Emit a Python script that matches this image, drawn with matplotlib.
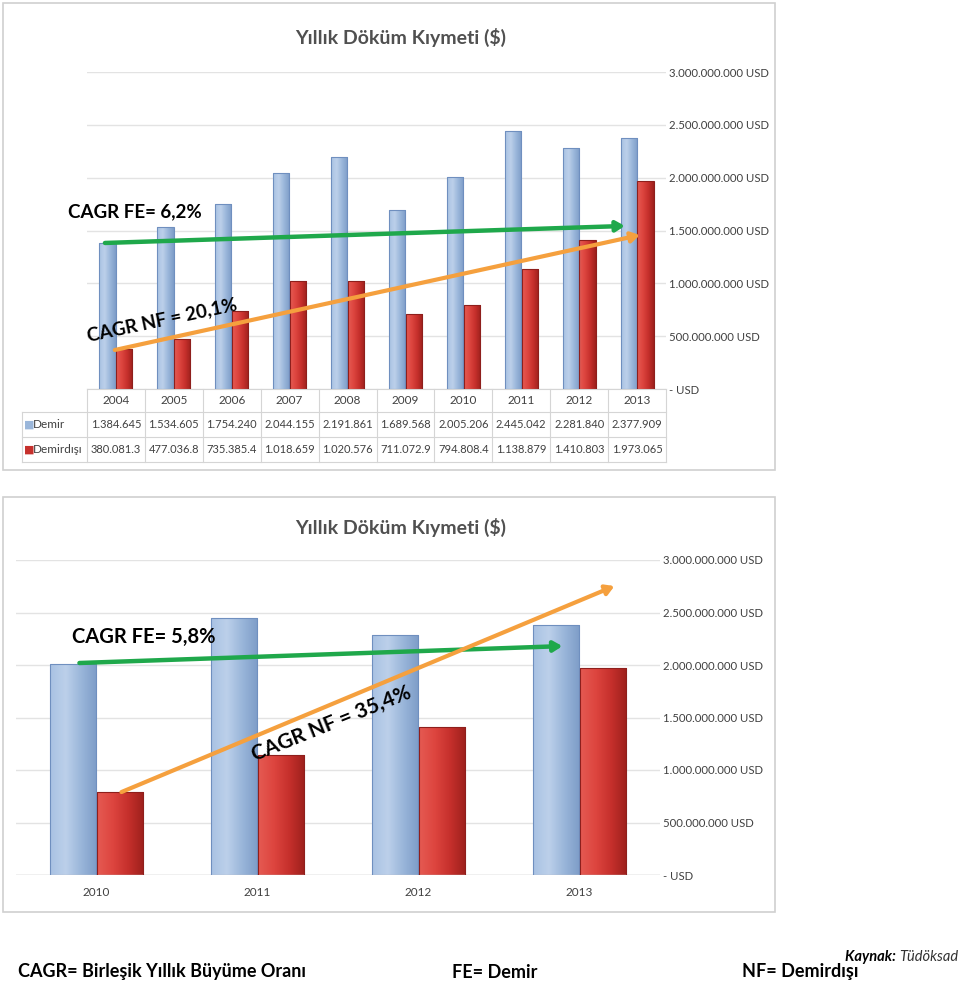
import numpy as np
import matplotlib.pyplot as plt
from matplotlib.patches import Rectangle
from matplotlib.colors import to_rgb
from matplotlib.transforms import blended_transform_factory

plt.rcParams['font.family'] = ['Lato', 'DejaVu Sans']

years = ['2004', '2005', '2006', '2007', '2008', '2009', '2010', '2011', '2012', '2013']
# thousand USD
demir = [1384645, 1534605, 1754240, 2044155, 2191861, 1689568, 2005206, 2445042, 2281840, 2377909]
demirdisi = [380081.3, 477036.8, 735385.4, 1018659, 1020576, 711072.9, 794808.4, 1138879, 1410803, 1973065]
demir_txt = ['1.384.645', '1.534.605', '1.754.240', '2.044.155', '2.191.861',
             '1.689.568', '2.005.206', '2.445.042', '2.281.840', '2.377.909']
demirdisi_txt = ['380.081.3', '477.036.8', '735.385.4', '1.018.659', '1.020.576',
                 '711.072.9', '794.808.4', '1.138.879', '1.410.803', '1.973.065']
ticks = [0, 500e6, 1000e6, 1500e6, 2000e6, 2500e6, 3000e6]

W, H = 960, 983
BLUE_E = '#6F8FBF'
RED_E = '#8E1F1C'
BLUE_G = ['#A9C2E3', '#BCD0EA', '#9AB6DA', '#7E9DC8']
RED_G = ['#E55A52', '#DD453F', '#C6302C', '#9E211D']
GREEN, ORANGE = '#1FA84B', '#F5A03E'
GRID = '#E3E3E3'
TXT = '#404040'


def fx(x):
    return x / W


def fy(y):
    return 1 - y / H


def usd(v):
    if v == 0:
        return '- USD'
    return f'{v:,.0f}'.replace(',', '.') + ' USD'


def style_axes(ax):
    ax.set_ylim(0, 3000e6)
    ax.set_yticks(ticks)
    ax.set_yticklabels([usd(t) for t in ticks], fontsize=8.2, color=TXT)
    ax.yaxis.tick_right()
    ax.tick_params(axis='y', length=0, pad=2)
    ax.grid(axis='y', color=GRID, lw=1)
    ax.set_axisbelow(True)
    for s in ax.spines.values():
        s.set_visible(False)


def shade(ax, bars, stops):
    cols = np.array([to_rgb(c) for c in stops])
    t = np.linspace(0, 1, 40)
    pos = np.linspace(0, 1, len(stops))
    grad = np.stack([np.interp(t, pos, cols[:, k]) for k in range(3)], axis=-1)[None, :, :]
    xl, yl = ax.get_xlim(), ax.get_ylim()
    for b in bars:
        x0, y0 = b.get_xy()
        im = ax.imshow(grad, extent=[x0, x0 + b.get_width(), y0, y0 + b.get_height()],
                       aspect='auto', interpolation='bilinear', zorder=b.get_zorder() + 0.1)
        im.set_clip_path(b)
    ax.set_xlim(xl)
    ax.set_ylim(yl)


def draw_bars(ax, n, v1, v2, w):
    xs = np.arange(n)
    ax.set_xlim(-0.5, n - 0.5)
    b1 = ax.bar(xs - 0.145, [v * 1000 for v in v1], w, color='none', edgecolor=BLUE_E, lw=0.8)
    b2 = ax.bar(xs + 0.145, [v * 1000 for v in v2], w, color='none', edgecolor=RED_E, lw=0.8)
    shade(ax, b1, BLUE_G)
    shade(ax, b2, RED_G)
    for b in list(b1) + list(b2):
        b.set_zorder(3)


ARROW = '-|>,head_length=0.5,head_width=0.3'

fig = plt.figure(figsize=(W / 100, H / 100), dpi=100)

# chart frames
for y0, y1 in [(3, 470), (497, 912)]:
    fig.patches.append(Rectangle((fx(3), fy(y1)), fx(772), (y1 - y0) / H,
                                 transform=fig.transFigure, fill=False,
                                 ec='#D0D0D0', lw=1.2))

# ---------- top chart ----------
ax1 = fig.add_axes([fx(87), fy(389), fx(579), (389 - 72) / H])
style_axes(ax1)
draw_bars(ax1, len(years), demir, demirdisi, 0.28)
ax1.set_xticks([])

# data table under the axis
tr = blended_transform_factory(ax1.transData, ax1.transAxes)
rows_y = [0, -0.072, -0.151, -0.230]
lc = '#D5D5D5'
xl = -1.63
for k, yy in enumerate(rows_y):
    ax1.plot([-0.5 if k == 0 else xl, 9.5], [yy, yy], color=lc, lw=0.8,
             transform=tr, clip_on=False)
for i in range(len(years) + 1):
    ax1.plot([i - 0.5, i - 0.5], [0, rows_y[-1]], color=lc, lw=0.8,
             transform=tr, clip_on=False)
ax1.plot([xl, xl], [rows_y[1], rows_y[-1]], color=lc, lw=0.8,
         transform=tr, clip_on=False)
for i in range(len(years)):
    ax1.text(i, -0.037, years[i], transform=tr, ha='center', va='center',
             fontsize=8.5, color=TXT)
    ax1.text(i, -0.112, demir_txt[i], transform=tr, ha='center', va='center',
             fontsize=8, color=TXT)
    ax1.text(i, -0.191, demirdisi_txt[i], transform=tr, ha='center', va='center',
             fontsize=8, color=TXT)
for yy, lab, c in [(-0.112, 'Demir', BLUE_G[2]), (-0.191, 'Demirdışı', RED_G[2])]:
    ax1.text(xl + 0.05, yy, '■', transform=tr, ha='left', va='center',
             fontsize=8, color=c, family='DejaVu Sans')
    ax1.text(xl + 0.2, yy, lab, transform=tr, ha='left', va='center',
             fontsize=8.5, color=TXT)

ax1.annotate('', xy=(8.79, 1543e6), xytext=(-0.19, 1382e6),
             arrowprops=dict(arrowstyle=ARROW, color=GREEN, lw=3.2, shrinkA=0, shrinkB=0),
             zorder=5)
ax1.annotate('', xy=(9.05, 1457e6), xytext=(-0.02, 369e6),
             arrowprops=dict(arrowstyle=ARROW, color=ORANGE, lw=3, shrinkA=0, shrinkB=0),
             zorder=5)

fig.text(fx(401), fy(37), 'Yıllık Döküm Kıymeti ($)', ha='center', va='center',
         fontsize=14, fontweight='bold', color='#505050')
fig.text(fx(68), fy(212), 'CAGR FE= 6,2%', ha='left', va='center',
         fontsize=13.5, fontweight='bold', color='black')
fig.text(fx(162), fy(320), 'CAGR NF = 20,1%', ha='center', va='center',
         fontsize=13.5, fontweight='bold', color='black', rotation=12)

# ---------- bottom chart ----------
sub_years = years[6:]
sub_demir = demir[6:]
sub_demirdisi = demirdisi[6:]

ax2 = fig.add_axes([fx(16), fy(875), fx(644), (875 - 560) / H])
style_axes(ax2)
draw_bars(ax2, len(sub_years), sub_demir, sub_demirdisi, 0.286)
ax2.set_xticks(range(len(sub_years)))
ax2.set_xticklabels(sub_years, fontsize=8.5, color=TXT)
ax2.tick_params(axis='x', length=0, pad=9)
ax2.axhline(0, color='#D0D0D0', lw=1)

ax2.annotate('', xy=(2.894, 2180e6), xytext=(-0.106, 2019e6),
             arrowprops=dict(arrowstyle=ARROW, color=GREEN, lw=3.2, shrinkA=0, shrinkB=0),
             zorder=5)
ax2.annotate('', xy=(3.217, 2752e6), xytext=(0.155, 790e6),
             arrowprops=dict(arrowstyle=ARROW, color=ORANGE, lw=3, shrinkA=0, shrinkB=0),
             zorder=5)

fig.text(fx(401), fy(527), 'Yıllık Döküm Kıymeti ($)', ha='center', va='center',
         fontsize=14, fontweight='bold', color='#505050')
fig.text(fx(72), fy(637), 'CAGR FE= 5,8%', ha='left', va='center',
         fontsize=14.5, fontweight='bold', color='black')
fig.text(fx(331), fy(724), 'CAGR NF = 35,4%', ha='center', va='center',
         fontsize=15, fontweight='bold', color='black', rotation=22)

# ---------- footer ----------
src = fig.text(fx(958), fy(957), 'Tüdöksad', ha='right', va='center', fontsize=10.5,
               style='italic', color='#333333')
ax2.annotate('Kaynak: ', xy=(0, 0.5), xycoords=src, ha='right', va='center',
             fontsize=10.5, fontweight='bold', style='italic', color='black',
             annotation_clip=False)
fig.text(fx(18), fy(972), 'CAGR= Birleşik Yıllık Büyüme Oranı', ha='left', va='center',
         fontsize=13, fontweight='bold', color='black')
fig.text(fx(452), fy(972), 'FE= Demir', ha='left', va='center',
         fontsize=13, fontweight='bold', color='black')
fig.text(fx(742), fy(972), 'NF= Demirdışı', ha='left', va='center',
         fontsize=13, fontweight='bold', color='black')

fig.savefig('out.png', dpi=100)
